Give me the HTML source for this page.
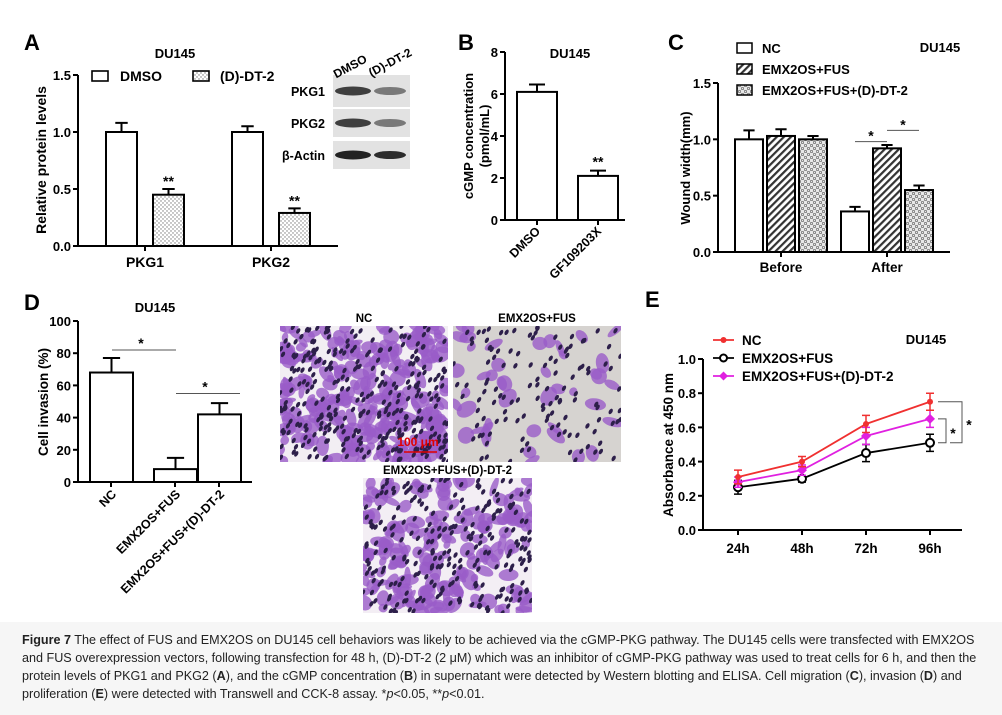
<!DOCTYPE html>
<html><head><meta charset="utf-8">
<style>
html,body{margin:0;padding:0;background:#fff;}
svg{display:block;font-family:"Liberation Sans",Arial,sans-serif;}
.caption{position:absolute;left:0;top:622px;width:1002px;height:93px;background:#f6f6f6;}
.cap{position:absolute;left:22px;top:631px;width:975px;font-family:"Liberation Sans","DejaVu Sans",sans-serif;font-size:12.6px;line-height:18px;color:#222;}
</style></head>
<body>
<div style="position:relative;width:1002px;height:715px;overflow:hidden;">
<svg id="fig" width="1002" height="715" viewBox="0 0 1002 715">
<defs>
<pattern id="dots" width="4" height="4" patternUnits="userSpaceOnUse"><rect width="4" height="4" fill="#fff"/><circle cx="1" cy="1" r="0.7" fill="#777"/><circle cx="3" cy="3" r="0.7" fill="#777"/></pattern>
<pattern id="hatch" width="5" height="5" patternUnits="userSpaceOnUse" patternTransform="rotate(45)"><rect width="5" height="5" fill="#fff"/><rect width="2.2" height="5" fill="#333"/></pattern>
<pattern id="check" width="6" height="6" patternUnits="userSpaceOnUse"><rect width="6" height="6" fill="#e8e8e8"/><circle cx="1.5" cy="1.5" r="1.2" fill="none" stroke="#666" stroke-width="0.7"/><circle cx="4.5" cy="4.5" r="1.2" fill="none" stroke="#666" stroke-width="0.7"/></pattern>
</defs>
<g id="gA"></g>
<g id="gB"></g>
<g id="gC"></g>
<g id="gD"></g>
<g id="gE"></g>
<g id="gP"></g>
</svg>
<div class="caption"></div>
<div class="cap"><b>Figure 7</b> The effect of FUS and EMX2OS on DU145 cell behaviors was likely to be achieved via the cGMP-PKG pathway. The DU145 cells were transfected with EMX2OS and FUS overexpression vectors, following transfection for 48 h, (D)-DT-2 (2 μM) which was an inhibitor of cGMP-PKG pathway was used to treat cells for 6 h, and then the protein levels of PKG1 and PKG2 (<b>A</b>), and the cGMP concentration (<b>B</b>) in supernatant were detected by Western blotting and ELISA. Cell migration (<b>C</b>), invasion (<b>D</b>) and proliferation (<b>E</b>) were detected with Transwell and CCK-8 assay. *<i>p</i>&lt;0.05, **<i>p</i>&lt;0.01.</div>
</div>
<script>
// ---- Panel A data
const aCategories = ["PKG1","PKG2"];
const aSeriesNames = ["DMSO","(D)-DT-2"];
const aDMSO = [1.0, 1.0];
const aDMSOErr = [0.08, 0.05];
const aDT2 = [0.45, 0.29];
const aDT2Err = [0.05, 0.04];
const aTicks = ["0.0","0.5","1.0","1.5"];
// ---- Panel B data
const bCategories = ["DMSO","GF109203X"];
const bValues = [6.1, 2.1];
const bErr = [0.35, 0.25];
const bTicks = ["0","2","4","6","8"];
// ---- Panel C data
const cCategories = ["Before","After"];
const cSeriesNames = ["NC","EMX2OS+FUS","EMX2OS+FUS+(D)-DT-2"];
const cNC = [1.0, 0.36];
const cNCErr = [0.08, 0.04];
const cEF = [1.03, 0.92];
const cEFErr = [0.06, 0.03];
const cEFD = [1.0, 0.55];
const cEFDErr = [0.03, 0.04];
const cTicks = ["0.0","0.5","1.0","1.5"];
// ---- Panel D data
const dCategories = ["NC","EMX2OS+FUS","EMX2OS+FUS+(D)-DT-2"];
const dValues = [68, 8, 42];
const dErr = [9, 7, 7];
const dTicks = ["0","20","40","60","80","100"];
// ---- Panel E data
const eCategories = ["24h","48h","72h","96h"];
const eSeriesNames = ["NC","EMX2OS+FUS","EMX2OS+FUS+(D)-DT-2"];
const eNC = [0.31, 0.40, 0.62, 0.75];
const eNCErr = [0.04, 0.03, 0.05, 0.05];
const eEF = [0.25, 0.30, 0.45, 0.51];
const eEFErr = [0.04, 0.02, 0.05, 0.05];
const eEFD = [0.28, 0.35, 0.55, 0.65];
const eEFDErr = [0.03, 0.03, 0.05, 0.05];
const eTicks = ["0.0","0.2","0.4","0.6","0.8","1.0"];

const NS="http://www.w3.org/2000/svg";
function mk(parent,tag,attrs,text){const e=document.createElementNS(NS,tag);for(const k in attrs)e.setAttribute(k,attrs[k]);if(text!==undefined)e.textContent=text;parent.appendChild(e);return e;}
function lin(d0,d1,r0,r1){return v=>r0+(v-d0)/(d1-d0)*(r1-r0);}

function yAxis(g,x,y,ticks){
  const ax=mk(g,'line',{x1:x,y1:y(+ticks[0]),x2:x,y2:y(+ticks[ticks.length-1]),stroke:'#000','stroke-width':2});
  
  
  ticks.forEach(t=>{
    const tk=mk(g,'line',{x1:x-5,y1:y(+t),x2:x,y2:y(+t),stroke:'#000','stroke-width':2});
    
    
    const tl=mk(g,'text',{x:x-7,y:y(+t)+5,'text-anchor':'end','font-size':13,'font-weight':'bold'},t);
    
    
  });
}
function xAxisLine(g,x1,x2,y0){
  const ax=mk(g,'line',{x1:x1,y1:y0,x2:x2,y2:y0,stroke:'#000','stroke-width':2});
  
  
}
function bar(g,x,w,y,v,err,fill,name){
  const r=mk(g,'rect',{x:x,y:y(v),width:w,height:y(0)-y(v),fill:fill,stroke:'#000','stroke-width':2});
  
  
  const cx=x+w/2;
  const e=mk(g,'path',{d:`M${cx},${y(v)}V${y(v+err)}M${cx-w/5},${y(v+err)}H${cx+w/5}`,stroke:'#000','stroke-width':2,fill:'none'});
  
  
}
function txt(g,x,y,s,size,name,anchor,extra){
  const t=mk(g,'text',Object.assign({x:x,y:y,'font-size':size,'font-weight':'bold','text-anchor':anchor||'start'},extra||{}),s);
  
  
  return t;
}

// ===== Panel A
(function(){
const g=document.getElementById('gA');
const y=lin(0,1.5,246,75);
txt(g,24,50,'A',22,'panel-label-a');
txt(g,175,58,'DU145',13,'chart-title-a','middle');
yAxis(g,78,y,aTicks);
xAxisLine(g,78,338,246);
const groupX=[106,232];
aCategories.forEach((c,i)=>{
  bar(g,groupX[i],31,y,aDMSO[i],aDMSOErr[i],'#fff','bar-dmso-'+c.toLowerCase());
  bar(g,groupX[i]+47,31,y,aDT2[i],aDT2Err[i],'url(#dots)','bar-dt2-'+c.toLowerCase());
  txt(g,groupX[i]+62.5,y(aDT2[i]+aDT2Err[i])-3,'**',14,'significance-'+c.toLowerCase(),'middle');
  const tk=mk(g,'line',{x1:groupX[i]+39,y1:246,x2:groupX[i]+39,y2:251,stroke:'#000','stroke-width':2});
  
  
  txt(g,groupX[i]+39,267,c,14,'x-label-'+c.toLowerCase(),'middle');
});
const l1=mk(g,'rect',{x:92,y:71,width:16,height:10,fill:'#fff',stroke:'#000','stroke-width':1.6});


txt(g,120,81,aSeriesNames[0],14,'legend-label-dmso');
const l2=mk(g,'rect',{x:193,y:71,width:16,height:10,fill:'url(#dots)',stroke:'#000','stroke-width':1.6});


txt(g,220,81,aSeriesNames[1],14,'legend-label-dt2');
txt(g,46,160,'Relative protein levels',14,'y-axis-title','middle',{transform:'rotate(-90 46 160)'});
const bands=[['PKG1',75,107,0.85,0.55],['PKG2',109,137,0.85,0.55],['β-Actin',141,169,1,0.95]];
bands.forEach(b=>{
  const bg=mk(g,'rect',{x:333,y:b[1],width:77,height:b[2]-b[1],fill:'#e2e2e2'});
  
  
  const cy=(b[1]+b[2])/2;
  const e1=mk(g,'ellipse',{cx:353,cy:cy,rx:18,ry:4.5,fill:'#222','fill-opacity':b[3]});
  
  
  const e2=mk(g,'ellipse',{cx:390,cy:cy,rx:16,ry:4,fill:'#222','fill-opacity':b[4]});
  
  
  txt(g,325,cy+5,b[0],12.5,'blot-label','end');
});
txt(g,352,70,'DMSO',12,'blot-lane-dmso','middle',{transform:'rotate(-28 352 70)'});
txt(g,392,66,'(D)-DT-2',12,'blot-lane-dt2','middle',{transform:'rotate(-28 392 66)'});
})();

// ===== Panel B
(function(){
const g=document.getElementById('gB');
const y=lin(0,8,220,52);
txt(g,458,50,'B',22,'panel-label-b');
txt(g,570,58,'DU145',13,'chart-title-b','middle');
yAxis(g,505,y,bTicks);
xAxisLine(g,505,625,220);
const xs=[517,578];
bCategories.forEach((c,i)=>{
  bar(g,xs[i],40,y,bValues[i],bErr[i],'#fff','bar-'+c.toLowerCase());
  const tk=mk(g,'line',{x1:xs[i]+20,y1:220,x2:xs[i]+20,y2:225,stroke:'#000','stroke-width':2});
  
  
  txt(g,xs[i]+24,232,c,12.5,'x-label-'+c.toLowerCase(),'end',{transform:`rotate(-45 ${xs[i]+24} 232)`});
});
txt(g,xs[1]+20,y(bValues[1]+bErr[1])-4,'**',14,'significance-b','middle');
txt(g,473,136,'cGMP concentration',13,'y-axis-title','middle',{transform:'rotate(-90 473 136)'});
txt(g,489,136,'(pmol/mL)',13,'y-axis-title-unit','middle',{transform:'rotate(-90 489 136)'});
})();

// ===== Panel C
(function(){
const g=document.getElementById('gC');
const y=lin(0,1.5,252,83);
txt(g,668,50,'C',22,'panel-label-c');
txt(g,940,52,'DU145',13,'chart-title-c','middle');
yAxis(g,718,y,cTicks);
xAxisLine(g,718,950,252);
const fills=['#fff','url(#hatch)','url(#check)'];
const series=[[cNC,cNCErr],[cEF,cEFErr],[cEFD,cEFDErr]];
const gx=[735,841];
cCategories.forEach((c,i)=>{
  series.forEach((s,j)=>{
    bar(g,gx[i]+j*32,28,y,s[0][i],s[1][i],fills[j],'bar-'+c.toLowerCase()+'-'+j);
  });
  const tk=mk(g,'line',{x1:gx[i]+46,y1:252,x2:gx[i]+46,y2:257,stroke:'#000','stroke-width':2});
  
  
  txt(g,gx[i]+46,272,c,13.5,'x-label-'+c.toLowerCase(),'middle');
});
const b1=mk(g,'line',{x1:gx[1]+14,y1:y(0.98),x2:gx[1]+46,y2:y(0.98),stroke:'#555','stroke-width':1});


txt(g,gx[1]+30,y(0.98)-1,'*',14,'significance-star','middle');
const b2=mk(g,'line',{x1:gx[1]+46,y1:y(1.08),x2:gx[1]+78,y2:y(1.08),stroke:'#555','stroke-width':1});


txt(g,gx[1]+62,y(1.08)-1,'*',14,'significance-star','middle');
cSeriesNames.forEach((n,j)=>{
  const r=mk(g,'rect',{x:737,y:43+j*21,width:15,height:10,fill:fills[j],stroke:'#000','stroke-width':1.5});
  
  
  txt(g,762,53+j*21,n,13,'legend-label');
});
txt(g,690,168,'Wound width(mm)',13,'y-axis-title','middle',{transform:'rotate(-90 690 168)'});
})();

// ===== Panel D
(function(){
const g=document.getElementById('gD');
const y=lin(0,100,482,321);
txt(g,24,310,'D',22,'panel-label-d');
txt(g,155,312,'DU145',13,'chart-title-d','middle');
yAxis(g,78,y,dTicks);
xAxisLine(g,78,252,482);
const xs=[90,154,198];
dCategories.forEach((c,i)=>{
  bar(g,xs[i],43,y,dValues[i],dErr[i],'#fff','bar-d-'+i);
  const tk=mk(g,'line',{x1:xs[i]+21,y1:482,x2:xs[i]+21,y2:487,stroke:'#000','stroke-width':2});
  
  
  txt(g,xs[i]+27,495,c,12.5,'x-label-d-'+i,'end',{transform:`rotate(-45 ${xs[i]+27} 495)`});
});
const s1=mk(g,'line',{x1:112,y1:y(82),x2:176,y2:y(82),stroke:'#555','stroke-width':1});


txt(g,141,y(82)-2,'*',14,'significance-star','middle');
const s2=mk(g,'line',{x1:176,y1:y(55),x2:240,y2:y(55),stroke:'#555','stroke-width':1});


txt(g,205,y(55)-2,'*',14,'significance-star','middle');
txt(g,48,402,'Cell invasion (%)',13.5,'y-axis-title','middle',{transform:'rotate(-90 48 402)'});
})();

// ===== Photos (decorative microscopy)
(function(){
const g=document.getElementById('gP');
let seed=7;function rnd(){seed=(seed*16807)%2147483647;return seed/2147483647;}
const photos=[[280,326,168,136,'#f2eef3',260,'NC'],[453,326,168,136,'#d6d3d0',45,'EMX2OS+FUS'],[363,478,169,135,'#f3eef4',190,'EMX2OS+FUS+(D)-DT-2']];
photos.forEach((p,k)=>{
  const cp=mk(g,'clipPath',{id:'cp'+k});
  mk(cp,'rect',{x:p[0],y:p[1],width:p[2],height:p[3]});
  const gg=mk(g,'g',{'clip-path':`url(#cp${k})`});
  
  
  mk(gg,'rect',{x:p[0],y:p[1],width:p[2],height:p[3],fill:p[4]});
  for(let i=0;i<p[5];i++){
    const cx=p[0]+rnd()*p[2],cy=p[1]+rnd()*p[3];
    mk(gg,'ellipse',{cx:cx,cy:cy,rx:4+rnd()*7,ry:3+rnd()*5,fill:'#9a5cc8','fill-opacity':0.8,transform:`rotate(${Math.floor(rnd()*180)} ${cx} ${cy})`});
  }
  for(let i=0;i<p[5]*0.8+90;i++){
    const cx=p[0]+rnd()*p[2],cy=p[1]+rnd()*p[3];
    mk(gg,'ellipse',{cx:cx,cy:cy,rx:1.8,ry:3,fill:'#2d1f4a',transform:`rotate(30 ${cx} ${cy})`});
  }
  txt(g,p[0]+p[2]/2,p[1]-4,p[6],11.5,'micrograph-title-'+k,'middle');
});
txt(g,418,446,'100 μm',12,'scale-bar-label','middle',{fill:'#e00000'});
const sb=mk(g,'line',{x1:404,y1:452,x2:437,y2:452,stroke:'#e00000','stroke-width':1.5});


})();

// ===== Panel E
(function(){
const g=document.getElementById('gE');
const y=lin(0,1.0,530,359);
const xs=eCategories.map((c,i)=>738+i*64);
txt(g,645,307,'E',22,'panel-label-e');
txt(g,926,344,'DU145',13,'chart-title-e','middle');
yAxis(g,703,y,eTicks);
xAxisLine(g,703,962,530);
eCategories.forEach((c,i)=>{
  const tk=mk(g,'line',{x1:xs[i],y1:530,x2:xs[i],y2:535,stroke:'#000','stroke-width':2});
  
  
  txt(g,xs[i],553,c,13.5,'x-label-'+c,'middle');
});
const series=[[eEF,eEFErr,'#000','circle'],[eEFD,eEFDErr,'#e020e0','diamond'],[eNC,eNCErr,'#f03030','dot']];
series.forEach((s,j)=>{
  const pts=s[0].map((v,i)=>xs[i]+','+y(v)).join(' ');
  const pl=mk(g,'polyline',{points:pts,fill:'none',stroke:s[2],'stroke-width':1.8});
  
  
  s[0].forEach((v,i)=>{
    const e=mk(g,'path',{d:`M${xs[i]},${y(v-s[1][i])}V${y(v+s[1][i])}M${xs[i]-4},${y(v-s[1][i])}H${xs[i]+4}M${xs[i]-4},${y(v+s[1][i])}H${xs[i]+4}`,stroke:s[2],'stroke-width':1.5});
    
    
    let m;
    if(s[3]==='circle') m=mk(g,'circle',{cx:xs[i],cy:y(v),r:4,fill:'#fff',stroke:'#000','stroke-width':2});
    else if(s[3]==='diamond') m=mk(g,'path',{d:`M${xs[i]},${y(v)-5}L${xs[i]+5},${y(v)}L${xs[i]},${y(v)+5}L${xs[i]-5},${y(v)}Z`,fill:s[2]});
    else m=mk(g,'circle',{cx:xs[i],cy:y(v),r:3,fill:s[2]});
    
    
  });
});
const x96=xs[3];
const br1=mk(g,'path',{d:`M${x96+8},${y(eNC[3])}H${x96+32}V${y(eEF[3])}H${x96+20}`,fill:'none',stroke:'#555','stroke-width':1});


const br2=mk(g,'path',{d:`M${x96+8},${y(eEFD[3])}H${x96+16}V${y(eEF[3])}H${x96+8}`,fill:'none',stroke:'#555','stroke-width':1});


txt(g,x96+23,y((eEFD[3]+eEF[3])/2)+7,'*',14,'significance-star','middle');
txt(g,x96+39,y((eNC[3]+eEF[3])/2)+7,'*',14,'significance-star','middle');
const legendColors=['#f03030','#000','#e020e0'];
const legendMarkers=['dot','circle','diamond'];
eSeriesNames.forEach((n,j)=>{
  const ly=340+j*18;
  const l=mk(g,'line',{x1:713,y1:ly,x2:734,y2:ly,stroke:legendColors[j],'stroke-width':1.8});
  
  
  let m;
  if(legendMarkers[j]==='circle') m=mk(g,'circle',{cx:723.5,cy:ly,r:3.5,fill:'#fff',stroke:'#000','stroke-width':2});
  else if(legendMarkers[j]==='diamond') m=mk(g,'path',{d:`M723.5,${ly-4.5}L728,${ly}L723.5,${ly+4.5}L719,${ly}Z`,fill:legendColors[j]});
  else m=mk(g,'circle',{cx:723.5,cy:ly,r:3,fill:legendColors[j]});
  
  
  txt(g,742,ly+5,n,13.5,'legend-label');
});
txt(g,673,445,'Absorbance at 450 nm',13.5,'y-axis-title','middle',{transform:'rotate(-90 673 445)'});
})();
</script>
</body></html>
